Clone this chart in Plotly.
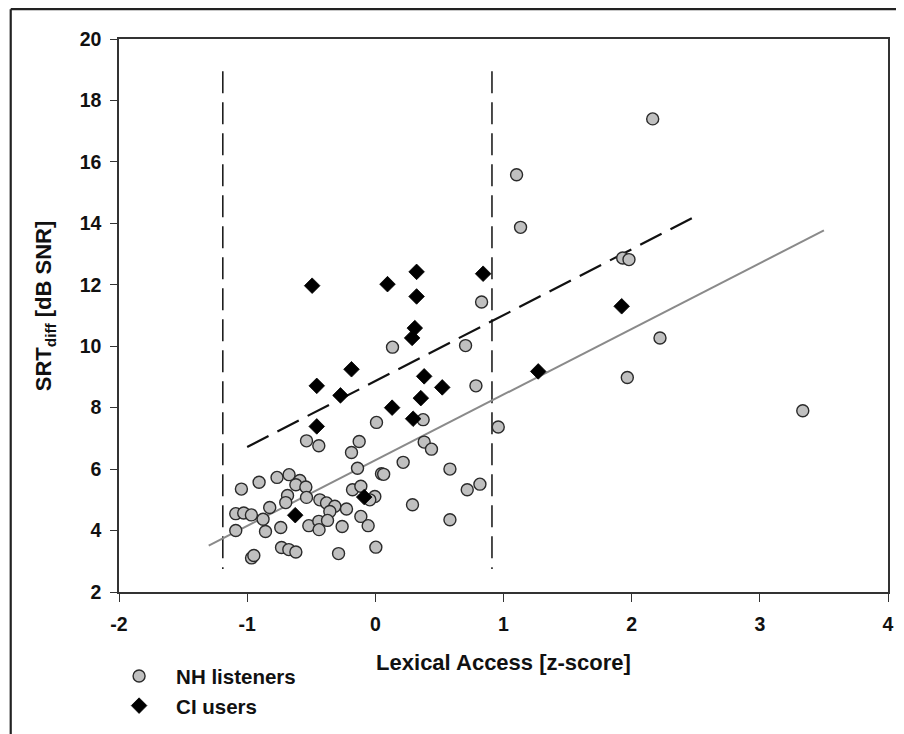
import plotly.graph_objects as go

# ---- data ----
nh_x = [0.134, 0.009, -0.537, -0.441, -0.126, -0.186, -0.139, 0.048, 0.065, -1.045,
        -0.907, -0.767, -0.673, -0.589, -0.620, -0.542, -0.685, -0.537, -0.699, -0.433,
        -0.381, -0.316, -0.355, -0.178, -0.113, -0.004, -0.043, -0.225, -1.089, -1.027,
        -0.967, -0.876, -0.824, -1.089, -0.857, -0.738, -0.519, -0.441, -0.439, -0.373,
        -0.259, -0.113, -0.056, -0.732, -0.675, -0.620, -0.966, -0.948, -0.287, 0.004,
        0.829, 0.704, 0.785, 0.959, 0.373, 0.381, 0.438, 0.217, 0.582, 0.816,
        0.717, 0.290, 0.582, 2.164, 1.102, 1.133, 1.930, 1.979, 2.221, 1.966,
        3.335]
nh_y = [9.97, 7.52, 6.92, 6.76, 6.90, 6.54, 6.03, 5.85, 5.83, 5.35,
        5.57, 5.73, 5.82, 5.63, 5.49, 5.42, 5.14, 5.08, 4.91, 5.00,
        4.90, 4.79, 4.62, 5.33, 5.44, 5.11, 5.00, 4.70, 4.55, 4.57,
        4.51, 4.37, 4.75, 4.00, 3.97, 4.10, 4.16, 4.30, 4.03, 4.33,
        4.13, 4.46, 4.16, 3.45, 3.38, 3.30, 3.11, 3.19, 3.25, 3.46,
        11.44, 10.02, 8.71, 7.37, 7.61, 6.88, 6.65, 6.22, 6.00, 5.51,
        5.33, 4.84, 4.35, 17.40, 15.58, 13.87, 12.87, 12.82, 10.27, 8.98,
        7.90]

ci_x = [-0.493, 0.095, 0.322, 0.322, 0.308, 0.287, 0.841, -0.186, -0.457, -0.272,
        0.381, 0.522, 0.355, 0.131, 0.295, -0.457, -0.087, -0.625, 1.271, 1.922]
ci_y = [11.97, 12.02, 12.42, 11.62, 10.59, 10.27, 12.36, 9.25, 8.71, 8.40,
        9.02, 8.66, 8.31, 8.00, 7.64, 7.39, 5.09, 4.50, 9.18, 11.30]

# regression lines (end points)
fit_nh_x = [-1.30, 3.50]
fit_nh_y = [3.51, 13.77]
fit_ci_x = [-1.00, 2.50]
fit_ci_y = [6.72, 14.23]

# vertical reference lines (drawn top to bottom)
vline_x = [-1.19, 0.91]
vline_y = [18.95, 2.75]

x_ticks = [-2, -1, 0, 1, 2, 3, 4]
x_tick_text = ["-2", "-1", "0", "1", "2", "3", "4"]
y_ticks = [2, 4, 6, 8, 10, 12, 14, 16, 18, 20]

FONT = "Liberation Sans, Arial, Helvetica, sans-serif"

fig = go.Figure()

for vx in vline_x:
    fig.add_trace(go.Scatter(
        x=[vx, vx], y=vline_y, mode="lines",
        line=dict(color="#111111", width=1.5, dash="22px,9px"),
        showlegend=False, hoverinfo="skip"))

fig.add_trace(go.Scatter(
    x=fit_nh_x, y=fit_nh_y, mode="lines",
    line=dict(color="#8a8a8a", width=2),
    showlegend=False, hoverinfo="skip"))

fig.add_trace(go.Scatter(
    x=fit_ci_x, y=fit_ci_y, mode="lines",
    line=dict(color="#111111", width=2.2, dash="24px,10px"),
    showlegend=False, hoverinfo="skip"))

fig.add_trace(go.Scatter(
    x=nh_x, y=nh_y, mode="markers", name="NH listeners",
    marker=dict(symbol="circle", size=12, color="#c0c0c0",
                line=dict(color="#2a2a2a", width=1.4))))

fig.add_trace(go.Scatter(
    x=ci_x, y=ci_y, mode="markers", name="CI users",
    marker=dict(symbol="diamond", size=12, color="#000000",
                line=dict(color="#000000", width=0.8))))

# outer frame (only left and top edges visible in the reference)
fig.add_shape(type="line", xref="paper", yref="paper",
              x0=-0.1408, x1=-0.1408, y0=1.0539, y1=-0.32,
              line=dict(color="#222222", width=2.2))
fig.add_shape(type="line", xref="paper", yref="paper",
              x0=-0.1408, x1=1.06, y0=1.0539, y1=1.0539,
              line=dict(color="#222222", width=2.2))

# y-axis title
fig.add_annotation(
    text="SRT<sub>diff</sub> [dB SNR]", textangle=-90,
    xref="paper", yref="paper", x=-0.096, y=0.517,
    xanchor="center", yanchor="middle", showarrow=False,
    font=dict(family=FONT, size=22, color="#111111", weight="bold"))

axis_common = dict(
    showline=True, linecolor="#333333", linewidth=1.5, mirror=True,
    ticks="outside", tickcolor="#333333", tickwidth=1.3,
    showgrid=False, zeroline=False,
    tickfont=dict(family=FONT, size=19.5, color="#111111", weight="bold"),
)

fig.update_xaxes(range=[-2, 4], tickvals=x_ticks, ticktext=x_tick_text, ticklen=8,
                 ticklabelstandoff=6,
                 title=dict(text="Lexical Access [z-score]", standoff=20,
                            font=dict(family=FONT, size=22, color="#111111", weight="bold")),
                 **axis_common)
fig.update_yaxes(range=[2, 20], tickvals=y_ticks, ticklen=7,
                 ticklabelstandoff=5,
                 **axis_common)

fig.update_layout(
    width=904, height=734,
    margin=dict(l=111, r=24, t=31, b=150),
    paper_bgcolor="white", plot_bgcolor="white",
    font=dict(family=FONT, color="#111111"),
    showlegend=True,
    legend=dict(x=-0.022, y=-0.116, xanchor="left", yanchor="top",
                orientation="v", itemwidth=64, bgcolor="rgba(0,0,0,0)",
                font=dict(family=FONT, size=20.5, color="#111111", weight="bold"),
                tracegroupgap=0),
)

fig.write_html("out.html")
